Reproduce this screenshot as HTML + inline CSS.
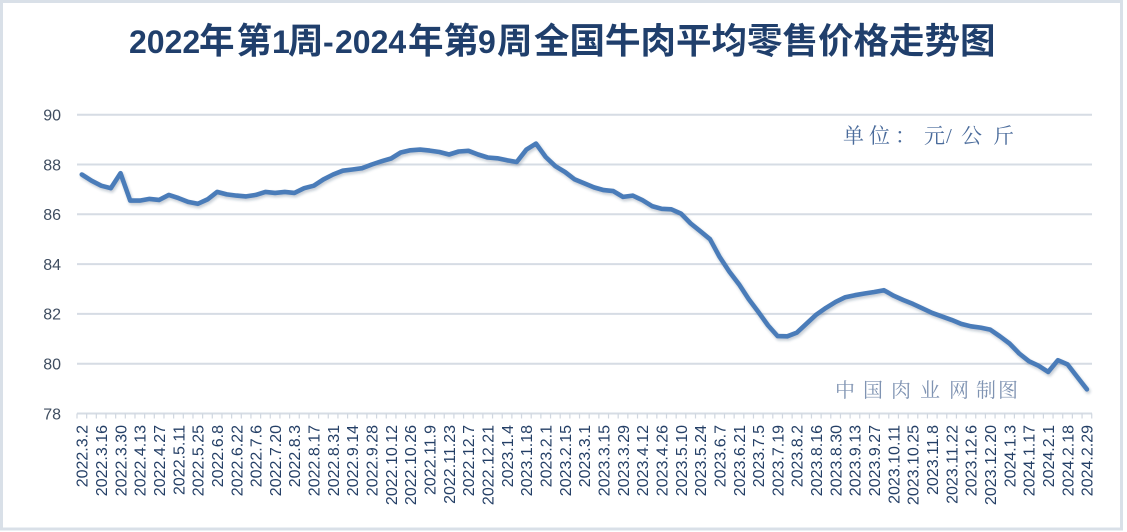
<!DOCTYPE html>
<html><head><meta charset="utf-8"><style>
html,body{margin:0;padding:0;background:#fff;}
svg{display:block;}
</style></head><body>
<svg width="1127" height="532" viewBox="0 0 1127 532" xmlns="http://www.w3.org/2000/svg">
<defs><filter id="sh" x="-5%" y="-5%" width="110%" height="120%"><feGaussianBlur stdDeviation="1.3"/></filter></defs>
<rect x="0" y="0" width="1127" height="532" fill="#fff"/>
<rect x="1.5" y="1.5" width="1120" height="527.5" fill="none" stroke="#d9e0e8" stroke-width="3"/>

<!-- title -->
<g fill="#203f6c" font-weight="bold">
<text y="53" font-family="'Liberation Sans', sans-serif" font-size="32"><tspan x="129">2022</tspan><tspan x="272">1</tspan><tspan x="323">-</tspan><tspan x="335">2024</tspan><tspan x="478">9</tspan></text>
<text y="53" font-family="'Noto Sans CJK SC', sans-serif" font-size="35.5"><tspan x="199">年</tspan><tspan x="236.5">第</tspan><tspan x="288">周</tspan><tspan x="408">年</tspan><tspan x="443.5">第</tspan><tspan x="497">周</tspan><tspan x="534">全国牛肉平均零售价格走势图</tspan></text>
</g>

<!-- grid -->
<g stroke="#d6dce4" stroke-width="2">
<line x1="77" y1="114.7" x2="1092" y2="114.7"/>
<line x1="77" y1="164.5" x2="1092" y2="164.5"/>
<line x1="77" y1="214.3" x2="1092" y2="214.3"/>
<line x1="77" y1="264.1" x2="1092" y2="264.1"/>
<line x1="77" y1="313.9" x2="1092" y2="313.9"/>
<line x1="77" y1="363.7" x2="1092" y2="363.7"/>
<line x1="77" y1="413.5" x2="1092" y2="413.5"/>
</g>

<!-- y labels -->
<g font-family="'Liberation Sans', sans-serif" font-size="16" fill="#3f4d60" text-anchor="end">
<text x="61" y="120.5">90</text>
<text x="61" y="170.3">88</text>
<text x="61" y="220.1">86</text>
<text x="61" y="269.9">84</text>
<text x="61" y="319.7">82</text>
<text x="61" y="369.5">80</text>
<text x="61" y="419.3">78</text>
</g>

<!-- ticks -->
<path stroke="#d0d7e0" stroke-width="1.2" fill="none" d="M77 413.5v5M86.66 413.5v5M96.33 413.5v5M105.99 413.5v5M115.66 413.5v5M125.32 413.5v5M134.98 413.5v5M144.65 413.5v5M154.31 413.5v5M163.98 413.5v5M173.64 413.5v5M183.3 413.5v5M192.97 413.5v5M202.63 413.5v5M212.3 413.5v5M221.96 413.5v5M231.62 413.5v5M241.29 413.5v5M250.95 413.5v5M260.62 413.5v5M270.28 413.5v5M279.94 413.5v5M289.61 413.5v5M299.27 413.5v5M308.94 413.5v5M318.6 413.5v5M328.26 413.5v5M337.93 413.5v5M347.59 413.5v5M357.26 413.5v5M366.92 413.5v5M376.58 413.5v5M386.25 413.5v5M395.91 413.5v5M405.58 413.5v5M415.24 413.5v5M424.9 413.5v5M434.57 413.5v5M444.23 413.5v5M453.9 413.5v5M463.56 413.5v5M473.22 413.5v5M482.89 413.5v5M492.55 413.5v5M502.22 413.5v5M511.88 413.5v5M521.54 413.5v5M531.21 413.5v5M540.87 413.5v5M550.54 413.5v5M560.2 413.5v5M569.86 413.5v5M579.53 413.5v5M589.19 413.5v5M598.86 413.5v5M608.52 413.5v5M618.18 413.5v5M627.85 413.5v5M637.51 413.5v5M647.18 413.5v5M656.84 413.5v5M666.5 413.5v5M676.17 413.5v5M685.83 413.5v5M695.5 413.5v5M705.16 413.5v5M714.82 413.5v5M724.49 413.5v5M734.15 413.5v5M743.82 413.5v5M753.48 413.5v5M763.14 413.5v5M772.81 413.5v5M782.47 413.5v5M792.14 413.5v5M801.8 413.5v5M811.46 413.5v5M821.13 413.5v5M830.79 413.5v5M840.46 413.5v5M850.12 413.5v5M859.78 413.5v5M869.45 413.5v5M879.11 413.5v5M888.78 413.5v5M898.44 413.5v5M908.1 413.5v5M917.77 413.5v5M927.43 413.5v5M937.1 413.5v5M946.76 413.5v5M956.42 413.5v5M966.09 413.5v5M975.75 413.5v5M985.42 413.5v5M995.08 413.5v5M1004.74 413.5v5M1014.41 413.5v5M1024.07 413.5v5M1033.74 413.5v5M1043.4 413.5v5M1053.06 413.5v5M1062.73 413.5v5M1072.39 413.5v5M1082.06 413.5v5M1091.72 413.5v5"/>

<!-- x labels -->
<g font-family="'Liberation Sans', sans-serif" font-size="16" fill="#243f66" text-anchor="end">
<text transform="translate(87.6,425) rotate(-90)">2022.3.2</text>
<text transform="translate(107,425) rotate(-90)">2022.3.16</text>
<text transform="translate(126.3,425) rotate(-90)">2022.3.30</text>
<text transform="translate(145.6,425) rotate(-90)">2022.4.13</text>
<text transform="translate(164.9,425) rotate(-90)">2022.4.27</text>
<text transform="translate(184.3,425) rotate(-90)">2022.5.11</text>
<text transform="translate(203.6,425) rotate(-90)">2022.5.25</text>
<text transform="translate(222.9,425) rotate(-90)">2022.6.8</text>
<text transform="translate(242.3,425) rotate(-90)">2022.6.22</text>
<text transform="translate(261.6,425) rotate(-90)">2022.7.6</text>
<text transform="translate(280.9,425) rotate(-90)">2022.7.20</text>
<text transform="translate(300.2,425) rotate(-90)">2022.8.3</text>
<text transform="translate(319.6,425) rotate(-90)">2022.8.17</text>
<text transform="translate(338.9,425) rotate(-90)">2022.8.31</text>
<text transform="translate(358.2,425) rotate(-90)">2022.9.14</text>
<text transform="translate(377.6,425) rotate(-90)">2022.9.28</text>
<text transform="translate(396.9,425) rotate(-90)">2022.10.12</text>
<text transform="translate(416.2,425) rotate(-90)">2022.10.26</text>
<text transform="translate(435.5,425) rotate(-90)">2022.11.9</text>
<text transform="translate(454.9,425) rotate(-90)">2022.11.23</text>
<text transform="translate(474.2,425) rotate(-90)">2022.12.7</text>
<text transform="translate(493.5,425) rotate(-90)">2022.12.21</text>
<text transform="translate(512.8,425) rotate(-90)">2023.1.4</text>
<text transform="translate(532.2,425) rotate(-90)">2023.1.18</text>
<text transform="translate(551.5,425) rotate(-90)">2023.2.1</text>
<text transform="translate(570.8,425) rotate(-90)">2023.2.15</text>
<text transform="translate(590.2,425) rotate(-90)">2023.3.1</text>
<text transform="translate(609.5,425) rotate(-90)">2023.3.15</text>
<text transform="translate(628.8,425) rotate(-90)">2023.3.29</text>
<text transform="translate(648.1,425) rotate(-90)">2023.4.12</text>
<text transform="translate(667.5,425) rotate(-90)">2023.4.26</text>
<text transform="translate(686.8,425) rotate(-90)">2023.5.10</text>
<text transform="translate(706.1,425) rotate(-90)">2023.5.24</text>
<text transform="translate(725.4,425) rotate(-90)">2023.6.7</text>
<text transform="translate(744.8,425) rotate(-90)">2023.6.21</text>
<text transform="translate(764.1,425) rotate(-90)">2023.7.5</text>
<text transform="translate(783.4,425) rotate(-90)">2023.7.19</text>
<text transform="translate(802.7,425) rotate(-90)">2023.8.2</text>
<text transform="translate(822.1,425) rotate(-90)">2023.8.16</text>
<text transform="translate(841.4,425) rotate(-90)">2023.8.30</text>
<text transform="translate(860.7,425) rotate(-90)">2023.9.13</text>
<text transform="translate(880.1,425) rotate(-90)">2023.9.27</text>
<text transform="translate(899.4,425) rotate(-90)">2023.10.11</text>
<text transform="translate(918.7,425) rotate(-90)">2023.10.25</text>
<text transform="translate(938,425) rotate(-90)">2023.11.8</text>
<text transform="translate(957.4,425) rotate(-90)">2023.11.22</text>
<text transform="translate(976.7,425) rotate(-90)">2023.12.6</text>
<text transform="translate(996,425) rotate(-90)">2023.12.20</text>
<text transform="translate(1015.3,425) rotate(-90)">2024.1.3</text>
<text transform="translate(1034.7,425) rotate(-90)">2024.1.17</text>
<text transform="translate(1054,425) rotate(-90)">2024.2.1</text>
<text transform="translate(1073.3,425) rotate(-90)">2024.2.18</text>
<text transform="translate(1092.7,425) rotate(-90)">2024.2.29</text>
</g>

<!-- series -->
<g fill="none" stroke-linejoin="round" stroke-linecap="round">
<polyline filter="url(#sh)" transform="translate(1.2,2)" stroke="rgba(40,60,90,0.25)" stroke-width="5" points="81.8,174.5 91.5,180.7 101.2,185.7 110.8,188.2 120.5,173.2 130.2,200.6 139.8,200.6 149.5,198.9 159.1,199.9 168.8,194.9 178.5,198.1 188.1,201.9 197.8,203.8 207.5,199.4 217.1,191.9 226.8,194.4 236.5,195.6 246.1,196.4 255.8,194.9 265.4,191.9 275.1,192.9 284.8,191.9 294.4,192.9 304.1,188.2 313.8,185.7 323.4,179.4 333.1,174.5 342.8,170.7 352.4,169.5 362.1,168.2 371.8,164.5 381.4,161.3 391.1,158.5 400.7,152.5 410.4,150.3 420.1,149.6 429.7,150.6 439.4,152 449.1,154.5 458.7,151.5 468.4,150.8 478.1,154.5 487.7,157.5 497.4,158.3 507,160.3 516.7,162 526.4,149.6 536,143.6 545.7,157 555.4,166.2 565,172 574.7,179.4 584.4,183.4 594,187.4 603.7,190.1 613.3,191.1 623,196.9 632.7,195.6 642.3,200.1 652,206.1 661.7,208.8 671.3,209.3 681,213.6 690.7,223.5 700.3,231.2 710,239.2 719.6,256.9 729.3,271.6 739,284.3 748.6,299 758.3,311.9 768,325.4 777.6,336.1 787.3,336.3 796.9,332.6 806.6,323.6 816.3,314.6 825.9,307.9 835.6,301.9 845.3,297.2 854.9,295.2 864.6,293.5 874.3,292 883.9,290.2 893.6,295.7 903.2,300 912.9,303.9 922.6,308.4 932.2,312.9 941.9,316.4 951.6,319.9 961.2,323.9 970.9,326.3 980.6,327.6 990.2,329.6 999.9,336.3 1009.5,343.5 1019.2,353.5 1028.9,361.2 1038.5,365.7 1048.2,371.9 1057.9,360.2 1067.5,364.4 1077.2,376.9 1086.9,389.3"/>
<polyline stroke="#4a7cb9" stroke-width="4.6" points="81.8,174.5 91.5,180.7 101.2,185.7 110.8,188.2 120.5,173.2 130.2,200.6 139.8,200.6 149.5,198.9 159.1,199.9 168.8,194.9 178.5,198.1 188.1,201.9 197.8,203.8 207.5,199.4 217.1,191.9 226.8,194.4 236.5,195.6 246.1,196.4 255.8,194.9 265.4,191.9 275.1,192.9 284.8,191.9 294.4,192.9 304.1,188.2 313.8,185.7 323.4,179.4 333.1,174.5 342.8,170.7 352.4,169.5 362.1,168.2 371.8,164.5 381.4,161.3 391.1,158.5 400.7,152.5 410.4,150.3 420.1,149.6 429.7,150.6 439.4,152 449.1,154.5 458.7,151.5 468.4,150.8 478.1,154.5 487.7,157.5 497.4,158.3 507,160.3 516.7,162 526.4,149.6 536,143.6 545.7,157 555.4,166.2 565,172 574.7,179.4 584.4,183.4 594,187.4 603.7,190.1 613.3,191.1 623,196.9 632.7,195.6 642.3,200.1 652,206.1 661.7,208.8 671.3,209.3 681,213.6 690.7,223.5 700.3,231.2 710,239.2 719.6,256.9 729.3,271.6 739,284.3 748.6,299 758.3,311.9 768,325.4 777.6,336.1 787.3,336.3 796.9,332.6 806.6,323.6 816.3,314.6 825.9,307.9 835.6,301.9 845.3,297.2 854.9,295.2 864.6,293.5 874.3,292 883.9,290.2 893.6,295.7 903.2,300 912.9,303.9 922.6,308.4 932.2,312.9 941.9,316.4 951.6,319.9 961.2,323.9 970.9,326.3 980.6,327.6 990.2,329.6 999.9,336.3 1009.5,343.5 1019.2,353.5 1028.9,361.2 1038.5,365.7 1048.2,371.9 1057.9,360.2 1067.5,364.4 1077.2,376.9 1086.9,389.3"/>
</g>

<!-- unit text -->
<g font-family="'Liberation Serif', 'Noto Serif CJK SC', serif" font-size="21" fill="#4a6b9b">
<text y="143"><tspan x="843">单</tspan><tspan x="869">位</tspan><tspan x="895">：</tspan><tspan x="924">元</tspan><tspan x="946">/</tspan><tspan x="961">公</tspan><tspan x="993">斤</tspan></text>
</g>

<!-- watermark -->
<g font-family="'Liberation Serif', 'Noto Serif CJK SC', serif" font-size="20" fill="#7f93b2">
<text y="397"><tspan x="835">中</tspan><tspan x="863">国</tspan><tspan x="891">肉</tspan><tspan x="920">业</tspan><tspan x="949">网</tspan><tspan x="976">制</tspan><tspan x="998">图</tspan></text>
</g>
</svg>
</body></html>
